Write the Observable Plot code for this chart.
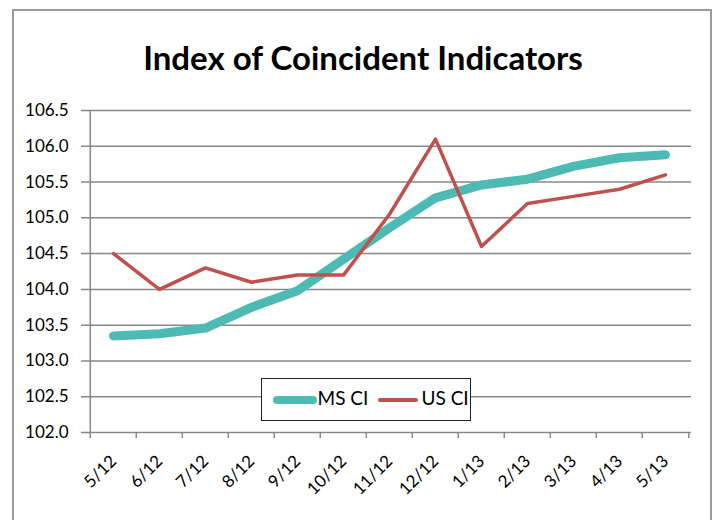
<!DOCTYPE html>
<html>
<head>
<meta charset="utf-8">
<script src="https://cdn.jsdelivr.net/npm/d3@7"></script>
<script src="https://cdn.jsdelivr.net/npm/@observablehq/plot@0.6"></script>
<style>
  body { margin: 0; background: #fff; }
  #wrap { position: relative; width: 716px; height: 520px; overflow: hidden; background: #fff; font-family: Lato, "Open Sans", sans-serif; }
  #chart { position: absolute; left: 0; top: 0; }
  #frame { position: absolute; left: 12px; top: 9px; width: 696px; height: 540px; border: 2px solid #9a9a9a; pointer-events: none; }
  #title { position: absolute; left: 5px; top: 41px; width: 716px; text-align: center; font-weight: bold; font-size: 33px; line-height: 33px; color: #000; white-space: nowrap; }
  #legend { position: absolute; left: 261px; top: 378px; width: 210px; height: 43px; box-sizing: border-box; border: 1.5px solid #222; background: #fff; }
  .sw { position: absolute; }
  .lt { position: absolute; font-size: 19px; line-height: 19px; color: #000; white-space: nowrap; }
</style>
</head>
<body>
<div id="wrap">
  <div id="chart"></div>
  <div id="title">Index of Coincident Indicators</div>
  <div id="legend"></div>
  <div id="frame"></div>
</div>
<script>
// ---- data ----
const months = ["5/12","6/12","7/12","8/12","9/12","10/12","11/12","12/12","1/13","2/13","3/13","4/13","5/13"];
const msCI = [103.35,103.38,103.46,103.75,103.98,104.42,104.86,105.28,105.46,105.54,105.72,105.84,105.88];
const usCI = [104.5,104.0,104.3,104.1,104.2,104.2,105.05,106.1,104.6,105.2,105.3,105.4,105.6];
const yTicks = [102.0,102.5,103.0,103.5,104.0,104.5,105.0,105.5,106.0,106.5];
const seriesNames = ["MS CI","US CI"];
const seriesColors = ["#4dbbb3","#c0504d"];

// ---- layout ----
const W = 716, H = 520, mL = 87, mR = 25, mT = 110, mB = 88;
const step = (W - mL - mR) / months.length;
const gridColor = "#888888";

const msData = months.map((m, i) => ({month: m, value: msCI[i]}));
const usData = months.map((m, i) => ({month: m, value: usCI[i]}));

const plot = Plot.plot({
  width: W, height: H,
  marginLeft: mL, marginRight: mR, marginTop: mT, marginBottom: mB,
  style: {background: "transparent", fontFamily: "Lato, 'Open Sans', sans-serif", fontSize: "17px", color: "#000", overflow: "visible"},
  x: {type: "point", domain: months, padding: 0.5, label: null, tickSize: 0, tickRotate: -45, tickPadding: 26},
  y: {domain: [102, 106.5], ticks: yTicks, tickFormat: d3.format(".1f"), tickSize: 0, tickPadding: 19, label: null},
  marks: [
    Plot.ruleY(yTicks, {stroke: gridColor, strokeWidth: 1.5, insetLeft: -6}),
    Plot.ruleX([months[0]], {x: d => d, dx: -step / 2, stroke: gridColor, strokeWidth: 1.5}),
    Plot.ruleX(months, {x: d => d, dx: -step / 2, y1: () => 102, y2: () => 102, insetBottom: -6, stroke: gridColor, strokeWidth: 1.5}),
    Plot.ruleX([months[months.length - 1]], {x: d => d, dx: step / 2, y1: () => 102, y2: () => 102, insetBottom: -6, stroke: gridColor, strokeWidth: 1.5}),
    Plot.line(msData, {x: "month", y: "value", stroke: seriesColors[0], strokeWidth: 9, strokeLinecap: "round", strokeLinejoin: "round"}),
    Plot.line(usData, {x: "month", y: "value", stroke: seriesColors[1], strokeWidth: 3.5, strokeLinecap: "round", strokeLinejoin: "round"})
  ]
});
document.getElementById("chart").appendChild(plot);

// ---- legend ----
const legend = document.getElementById("legend");
const legendItems = [
  {sw: {left: 10.5, top: 16.5, width: 44, height: 8}, text: {left: 55.5, top: 9}},
  {sw: {left: 115.5, top: 18.5, width: 40, height: 4}, text: {left: 159.5, top: 9}}
];
legendItems.forEach((it, i) => {
  const s = document.createElement("div");
  s.className = "sw";
  Object.assign(s.style, {left: it.sw.left + "px", top: it.sw.top + "px", width: it.sw.width + "px", height: it.sw.height + "px", background: seriesColors[i], borderRadius: (it.sw.height / 2) + "px"});
  legend.appendChild(s);
  const t = document.createElement("div");
  t.className = "lt";
  t.style.left = it.text.left + "px";
  t.style.top = it.text.top + "px";
  t.textContent = seriesNames[i];
  legend.appendChild(t);
});
</script>
</body>
</html>
